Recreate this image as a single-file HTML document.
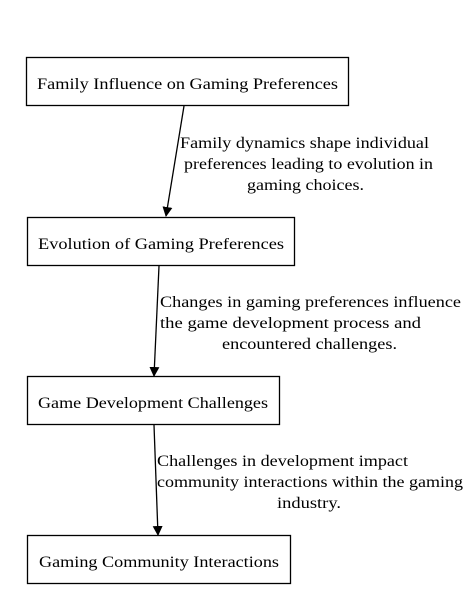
<!DOCTYPE html>
<html><head><style>body{margin:0;background:#fff}svg{display:block}text{font-family:"Liberation Serif",serif;font-size:16px;fill:#000}</style></head><body>
<svg width="468" height="610" viewBox="0 0 468 610">
<defs><marker id="a" markerWidth="10" markerHeight="10" refX="9" refY="5" orient="auto" markerUnits="userSpaceOnUse"><path d="M0,0 L10,5 L0,10 Z" fill="#000"/></marker></defs>
<g fill="none" stroke="#000" stroke-width="1.3">
<rect x="26.5" y="57.5" width="322" height="48"/>
<rect x="27.5" y="217.5" width="267" height="48"/>
<rect x="27.5" y="376.5" width="252" height="48"/>
<rect x="27.5" y="535.5" width="263" height="48"/>
<line x1="184" y1="106" x2="166" y2="216" marker-end="url(#a)"/>
<line x1="159" y1="266" x2="154" y2="376" marker-end="url(#a)"/>
<line x1="154" y1="425" x2="158" y2="535" marker-end="url(#a)"/>
</g>
<g lengthAdjust="spacingAndGlyphs">
<text x="37" y="89" textLength="301" lengthAdjust="spacingAndGlyphs">Family Influence on Gaming Preferences</text>
<text x="38" y="249" textLength="246" lengthAdjust="spacingAndGlyphs">Evolution of Gaming Preferences</text>
<text x="38" y="408" textLength="230" lengthAdjust="spacingAndGlyphs">Game Development Challenges</text>
<text x="39" y="567" textLength="240" lengthAdjust="spacingAndGlyphs">Gaming Community Interactions</text>
<text x="180" y="148" textLength="249" lengthAdjust="spacingAndGlyphs">Family dynamics shape individual</text>
<text x="184" y="169" textLength="249" lengthAdjust="spacingAndGlyphs">preferences leading to evolution in</text>
<text x="247" y="190" textLength="117" lengthAdjust="spacingAndGlyphs">gaming choices.</text>
<text x="160" y="307" textLength="301" lengthAdjust="spacingAndGlyphs">Changes in gaming preferences influence</text>
<text x="160" y="328" textLength="261" lengthAdjust="spacingAndGlyphs">the game development process and</text>
<text x="222" y="349" textLength="175" lengthAdjust="spacingAndGlyphs">encountered challenges.</text>
<text x="157" y="466" textLength="251" lengthAdjust="spacingAndGlyphs">Challenges in development impact</text>
<text x="157" y="487" textLength="306" lengthAdjust="spacingAndGlyphs">community interactions within the gaming</text>
<text x="277" y="508" textLength="64" lengthAdjust="spacingAndGlyphs">industry.</text>
</g>
</svg></body></html>
